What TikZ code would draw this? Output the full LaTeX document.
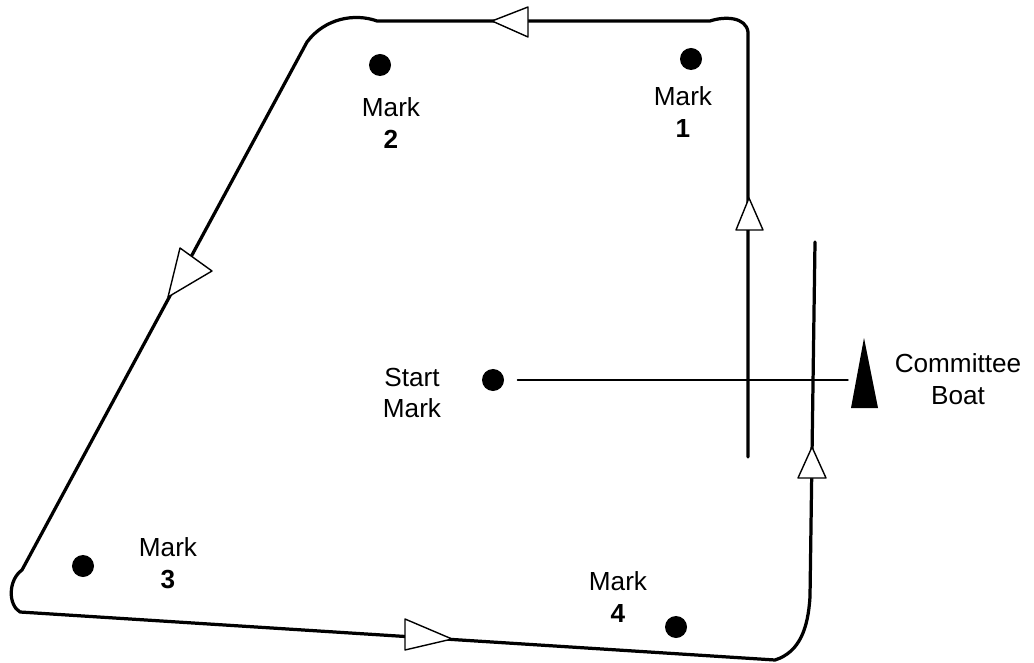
\documentclass[tikz,border=0pt]{standalone}
\usepackage{fontspec}
\setmainfont{Liberation Sans}
\tikzset{
  buoy/.style={circle, fill=black, inner sep=0pt, minimum size=0.55cm},
  marklabel/.style={align=center, inner sep=0pt},
  course/.style={line width=2.3pt},
  tip/.style={fill=white, draw=black, line width=1pt}
}
\begin{document}
\begin{tikzpicture}[x=0.025cm, y=-0.025cm, line cap=round, line join=round, font=\fontsize{18.6}{22.5}\selectfont]
\useasboundingbox (0,0) rectangle (1034,663);

% marks
\node[buoy] (mark1) at (691,59) {};
\node[buoy] (mark2) at (380,65) {};
\node[buoy] (mark3) at (83,566) {};
\node[buoy] (mark4) at (676,627) {};
\node[buoy] (start) at (493,380) {};
\node[marklabel] (lab1) at (683,112) {Mark\\\textbf{1}};
\node[marklabel] (lab2) at (391,123) {Mark\\\textbf{2}};
\node[marklabel] (lab3) at (168,563) {Mark\\\textbf{3}};
\node[marklabel] (lab4) at (618,597) {Mark\\\textbf{4}};
\node[marklabel] (labs) at (412,393) {Start\\Mark};
\node[marklabel] (labb) at (958,379) {Committee\\Boat};

% start line
\coordinate (boat) at (848,380);
\draw[line width=1pt, shorten <=0.33cm] (start.east) -- (boat);
\fill (864,338) -- (878,408) -- (851,408) -- cycle;

% course
\draw[course] (748,457) -- (748,32)
  .. controls (746,17) and (725,16) .. (710,21) -- (377,21)
  .. controls (355,13) and (325,18) .. (307,42) -- (22,570)
  .. controls (8,580) and (8,605) .. (20,612) -- (775,660)
  .. controls (800,652) and (808,628) .. (810,597) -- (815,242);

% direction arrows
\draw[tip] (492,21) -- (528,7) -- (528,37) -- cycle;
\draw[tip] (168,297) -- (180,248) -- (212,271) -- cycle;
\draw[tip] (452,639) -- (405,650) -- (405,619) -- cycle;
\draw[tip] (812,447) -- (826,478) -- (798,478) -- cycle;
\draw[tip] (749,198) -- (763,230) -- (736,230) -- cycle;
\end{tikzpicture}
\end{document}
